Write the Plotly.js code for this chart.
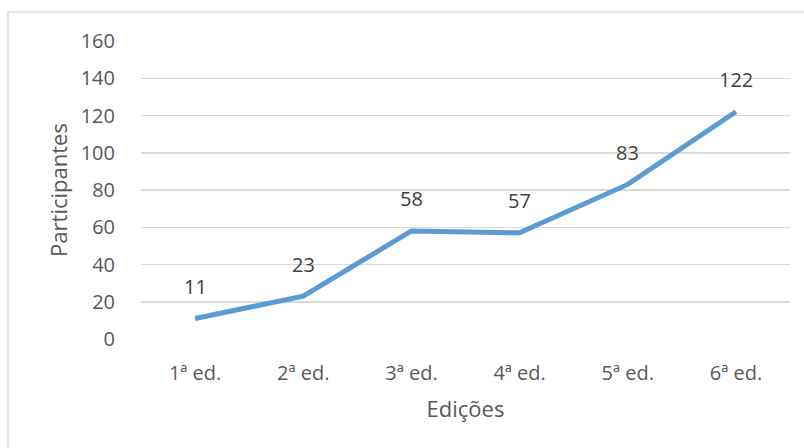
<!DOCTYPE html>
<html>
<head>
<meta charset="utf-8">
<script src="https://cdn.plot.ly/plotly-3.0.1.min.js"></script>
<style>
html,body{margin:0;padding:0;background:#fff;}
#chart{width:804px;height:448px;}
</style>
</head>
<body>
<div id="chart"></div>
<script>
const categories = ["1ª ed.", "2ª ed.", "3ª ed.", "4ª ed.", "5ª ed.", "6ª ed."];
const participantes = [11, 23, 58, 57, 83, 122];
const yTicks = [0, 20, 40, 60, 80, 100, 120, 140, 160];

const FONT = "Open Sans, Noto Sans, sans-serif";
const GRAY = "#595959";

const trace = {
  x: categories,
  y: participantes,
  type: "scatter",
  mode: "lines",
  line: {color: "#5B9BD5", width: 5},
  hoverinfo: "skip",
  showlegend: false
};

const annotations = categories.map((c, i) => ({
  x: c, y: participantes[i], xref: "x", yref: "y",
  text: String(participantes[i]), showarrow: false,
  yshift: 32, font: {family: FONT, size: 20, color: "#404040"}
}));

const layout = {
  width: 804, height: 448,
  margin: {l: 141, r: 14, t: 41, b: 109},
  paper_bgcolor: "#ffffff", plot_bgcolor: "#ffffff",
  font: {family: FONT, size: 20, color: GRAY},
  xaxis: {
    type: "category", range: [-0.5, 5.5],
    showgrid: false, zeroline: false, showline: false,
    ticks: "outside", ticklen: 16, tickcolor: "rgba(0,0,0,0)",
    tickfont: {family: FONT, size: 20, color: GRAY},
    title: {text: "Edições", font: {family: FONT, size: 22, color: GRAY}, standoff: 16}
  },
  yaxis: {
    range: [0, 160], tickvals: yTicks, ticktext: yTicks.map(String),
    showgrid: true, gridcolor: "#d9d9d9", gridwidth: 1.5,
    zeroline: false, showline: false,
    ticks: "outside", ticklen: 21, tickcolor: "rgba(0,0,0,0)",
    tickfont: {family: FONT, size: 20, color: GRAY},
    title: {text: "Participantes", font: {family: FONT, size: 22, color: GRAY}, standoff: 6}
  },
  shapes: [{
    type: "rect", xref: "paper", yref: "paper",
    x0: -0.2049, x1: 2, y0: -1, y1: 1.0973,
    line: {color: "#d0d0d0", width: 1.2}, fillcolor: "rgba(0,0,0,0)", layer: "below"
  }],
  annotations: annotations
};

Plotly.newPlot("chart", [trace], layout, {displayModeBar: false, staticPlot: true});
</script>
</body>
</html>
